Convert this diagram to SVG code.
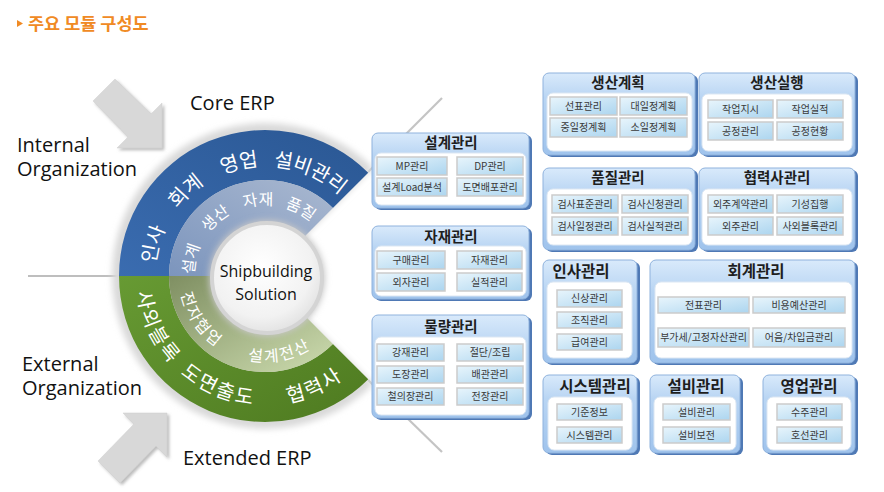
<svg xmlns="http://www.w3.org/2000/svg" xmlns:xlink="http://www.w3.org/1999/xlink" width="884" height="492" viewBox="0 0 884 492">
<defs>
<style>
.bx{fill:url(#boxG);stroke:#8fb2dd;stroke-width:1}
.bs{fill:#4f79b5}
.in{fill:#fff;stroke:#dce7f3;stroke-width:1}
.c{fill:url(#cellG);stroke:#cbcbcb;stroke-width:1.5}
.t{font-family:"Noto Sans CJK KR",sans-serif;font-size:14.5px;font-weight:bold;fill:#1e1e1e;text-anchor:middle}
.t2{font-size:15.5px}
.ct{font-family:"Noto Sans CJK KR",sans-serif;font-size:10px;fill:#3a3a3a;text-anchor:middle}
.lat{font-family:"Open Sans","Noto Sans",sans-serif;font-size:20px;fill:#111}
.rt{font-family:"Noto Sans CJK KR",sans-serif;fill:#fff;text-anchor:middle}
.ro{font-size:20px}
.ri{font-size:16px}
.gs{letter-spacing:2px}
.arr{fill:#d8d8d8;stroke:#cfcfcf;stroke-width:0.5}
.conn{stroke:#c4c4c4;stroke-width:2.2;fill:none}
</style>
<linearGradient id="boxG" x1="0" y1="0" x2="0" y2="1">
<stop offset="0" stop-color="#d9eafb"/>
<stop offset="0.3" stop-color="#b9d5f3"/>
<stop offset="1" stop-color="#9fc3ec"/>
</linearGradient>
<linearGradient id="cellG" x1="0" y1="0" x2="1" y2="1">
<stop offset="0" stop-color="#e8f5fc"/>
<stop offset="1" stop-color="#acd5ef"/>
</linearGradient>
<linearGradient id="dBlue" x1="0" y1="1" x2="1" y2="0">
<stop offset="0" stop-color="#3a6cb0"/>
<stop offset="1" stop-color="#2a5793"/>
</linearGradient>
<linearGradient id="lBlue" x1="0" y1="1" x2="1" y2="0">
<stop offset="0" stop-color="#7c95bd"/>
<stop offset="1" stop-color="#a9b8d0"/>
</linearGradient>
<linearGradient id="dGreen" x1="0" y1="0" x2="1" y2="1">
<stop offset="0" stop-color="#679a33"/>
<stop offset="1" stop-color="#4e7a20"/>
</linearGradient>
<linearGradient id="lGreen" x1="0" y1="0" x2="1" y2="1">
<stop offset="0" stop-color="#7f8f62"/>
<stop offset="1" stop-color="#cddcaf"/>
</linearGradient>
<radialGradient id="hubG" cx="0.45" cy="0.4" r="0.65">
<stop offset="0" stop-color="#ffffff"/>
<stop offset="0.7" stop-color="#f2f2f2"/>
<stop offset="1" stop-color="#dedede"/>
</radialGradient>
<filter id="blur" x="-20%" y="-20%" width="140%" height="140%"><feGaussianBlur stdDeviation="3"/></filter>
<filter id="sh" x="-20%" y="-20%" width="150%" height="150%"><feDropShadow dx="2" dy="2" stdDeviation="1.5" flood-color="#777" flood-opacity="0.5"/></filter>
<path id="pBO" d="M161.63,313.62 A110,110 0 1 1 368.37,313.62"/>
<path id="pBI" d="M198.28,300.28 A71,71 0 1 1 331.72,300.28"/>
<path id="pGO" d="M143.78,231.88 A129,129 0 0 0 376.72,340.5"/>
<path id="pGI" d="M184.19,246.59 A86,86 0 0 0 339.48,319"/>
</defs>
<rect width="884" height="492" fill="#fff"/>

<g id="title">
<polygon points="17,20 23,23.5 17,27" fill="#f08a24"/>
<text x="28" y="30" font-family="'Noto Sans CJK KR',sans-serif" font-size="17.5" font-weight="bold" fill="#f08a24">주요 모듈 구성도</text>
</g>

<g id="arrow-internal" filter="url(#sh)">
<path class="arr" d="M115,79 L151,114 L162,103 L162,148 L117,148 L128,137 L93,101 Z"/>
</g>
<g id="arrow-external" filter="url(#sh)">
<path class="arr" d="M167,413 L167,457 L156,446 L120,483 L98,461 L134,424 L123,413 Z"/>
</g>

<g id="labels">
<text class="lat" x="190" y="110">Core ERP</text>
<text class="lat" x="17" y="152">Internal</text>
<text class="lat" x="17" y="176">Organization</text>
<text class="lat" x="22" y="371">External</text>
<text class="lat" x="22" y="395">Organization</text>
<text class="lat" x="183" y="465">Extended ERP</text>
</g>

<g id="connectors">
<line x1="28" y1="276" x2="122" y2="276" stroke="#a8a8a8" stroke-width="1.5"/>
<line class="conn" x1="368" y1="172" x2="442" y2="98"/>
<line class="conn" x1="368" y1="380" x2="442" y2="452"/>
</g>

<g id="ring">
<path d="M373.19,167.81 A153,153 0 1 0 373.19,384.19 L265,276 Z" fill="#d9d9d9" filter="url(#blur)"/>
<path d="M119,276 A146,146 0 0 1 368.24,172.76 L332.88,208.12 A96,96 0 0 0 169,276 Z" fill="url(#dBlue)"/>
<path d="M169,276 A96,96 0 0 1 332.88,208.12 L300.36,240.64 A50,50 0 0 0 215,276 Z" fill="url(#lBlue)"/>
<path d="M119,276 A146,146 0 0 0 368.24,379.24 L332.88,343.88 A96,96 0 0 1 169,276 Z" fill="url(#dGreen)"/>
<path d="M169,276 A96,96 0 0 0 332.88,343.88 L300.36,311.36 A50,50 0 0 1 215,276 Z" fill="url(#lGreen)"/>
<text class="rt ro"><textPath xlink:href="#pBO" href="#pBO" startOffset="69.1">인사</textPath></text>
<text class="rt ro"><textPath xlink:href="#pBO" href="#pBO" startOffset="128.6">회계</textPath></text>
<text class="rt ro"><textPath xlink:href="#pBO" href="#pBO" startOffset="186.2">영업</textPath></text>
<text class="rt ro"><textPath xlink:href="#pBO" href="#pBO" startOffset="256.3">설비관리</textPath></text>
<text class="rt ri"><textPath xlink:href="#pBI" href="#pBI" startOffset="40.9">설계</textPath></text>
<text class="rt ri"><textPath xlink:href="#pBI" href="#pBI" startOffset="85.5">생산</textPath></text>
<text class="rt ri"><textPath xlink:href="#pBI" href="#pBI" startOffset="129.6">자재</textPath></text>
<text class="rt ri"><textPath xlink:href="#pBI" href="#pBI" startOffset="171">품질</textPath></text>
<text class="rt ro gs"><textPath xlink:href="#pGO" href="#pGO" startOffset="102">사외블록</textPath></text>
<text class="rt ro gs"><textPath xlink:href="#pGO" href="#pGO" startOffset="195.9">도면출도</textPath></text>
<text class="rt ro gs"><textPath xlink:href="#pGO" href="#pGO" startOffset="301.7">협력사</textPath></text>
<text class="rt ri gs"><textPath xlink:href="#pGI" href="#pGI" startOffset="81.1">전자협업</textPath></text>
<text class="rt ri gs"><textPath xlink:href="#pGI" href="#pGI" startOffset="181">설계전산</textPath></text>
</g>

<g id="hub">
<circle cx="267" cy="278" r="58" fill="#c8c8c8" filter="url(#blur)"/>
<circle cx="267" cy="278" r="55" fill="url(#hubG)" stroke="#d4d4d4" stroke-width="4"/>
<text x="266" y="277" font-family="'Open Sans','Noto Sans',sans-serif" font-size="16" fill="#111" text-anchor="middle">Shipbuilding</text>
<text x="266" y="300" font-family="'Open Sans','Noto Sans',sans-serif" font-size="16" fill="#111" text-anchor="middle">Solution</text>
</g>

<g id="box-design">
<rect class="bs" x="375" y="135" width="157" height="75" rx="6"/>
<rect class="bx" x="372" y="133" width="157" height="75" rx="6"/>
<text class="t" x="451" y="148">설계관리</text>
<rect class="in" x="375" y="153" width="151" height="52" rx="6"/>
<rect class="c" x="377" y="157" width="70" height="18"/><text class="ct" x="412" y="169.5">MP관리</text>
<rect class="c" x="457" y="157" width="66" height="18"/><text class="ct" x="490" y="169.5">DP관리</text>
<rect class="c" x="377" y="178" width="70" height="18"/><text class="ct" x="412" y="190.5">설계Load분석</text>
<rect class="c" x="457" y="178" width="66" height="18"/><text class="ct" x="490" y="190.5">도면배포관리</text>
</g>

<g id="box-material">
<rect class="bs" x="375" y="228" width="157" height="73" rx="6"/>
<rect class="bx" x="372" y="226" width="157" height="73" rx="6"/>
<text class="t" x="451" y="242">자재관리</text>
<rect class="in" x="375" y="246" width="151" height="50" rx="6"/>
<rect class="c" x="377" y="251" width="68" height="18"/><text class="ct" x="411" y="263.5">구매관리</text>
<rect class="c" x="457" y="251" width="65" height="18"/><text class="ct" x="489.5" y="263.5">자재관리</text>
<rect class="c" x="377" y="273" width="68" height="18"/><text class="ct" x="411" y="285.5">외자관리</text>
<rect class="c" x="457" y="273" width="65" height="18"/><text class="ct" x="489.5" y="285.5">실적관리</text>
</g>

<g id="box-quantity">
<rect class="bs" x="375" y="317" width="157" height="103" rx="6"/>
<rect class="bx" x="372" y="315" width="157" height="103" rx="6"/>
<text class="t" x="451" y="332">물량관리</text>
<rect class="in" x="375" y="337" width="151" height="78" rx="6"/>
<rect class="c" x="377" y="344" width="67" height="17"/><text class="ct" x="410.5" y="356.3">강재관리</text>
<rect class="c" x="457" y="344" width="66" height="17"/><text class="ct" x="490" y="356.3">절단/조립</text>
<rect class="c" x="377" y="366" width="67" height="17"/><text class="ct" x="410.5" y="378.3">도장관리</text>
<rect class="c" x="457" y="366" width="66" height="17"/><text class="ct" x="490" y="378.3">배관관리</text>
<rect class="c" x="377" y="388" width="67" height="17"/><text class="ct" x="410.5" y="400.3">철의장관리</text>
<rect class="c" x="457" y="388" width="66" height="17"/><text class="ct" x="490" y="400.3">전장관리</text>
</g>

<g id="box-plan">
<rect class="bs" x="546" y="75" width="152" height="82" rx="6"/>
<rect class="bx" x="543" y="73" width="152" height="82" rx="6"/>
<text class="t" x="618" y="88">생산계획</text>
<rect class="in" x="547" y="93" width="145" height="58" rx="6"/>
<rect class="c" x="550" y="97" width="67" height="18"/><text class="ct" x="583.5" y="109.5">선표관리</text>
<rect class="c" x="620" y="97" width="67" height="18"/><text class="ct" x="653.5" y="109.5">대일정계획</text>
<rect class="c" x="550" y="118" width="67" height="19"/><text class="ct" x="583.5" y="131">중일정계획</text>
<rect class="c" x="620" y="118" width="67" height="19"/><text class="ct" x="653.5" y="131">소일정계획</text>
</g>

<g id="box-exec">
<rect class="bs" x="702" y="75" width="156" height="82" rx="6"/>
<rect class="bx" x="699" y="73" width="156" height="82" rx="6"/>
<text class="t" x="777" y="88">생산실행</text>
<rect class="in" x="702" y="94" width="150" height="57" rx="6"/>
<rect class="c" x="708" y="100" width="65" height="18"/><text class="ct" x="740.5" y="112.5">작업지시</text>
<rect class="c" x="777" y="100" width="66" height="18"/><text class="ct" x="810" y="112.5">작업실적</text>
<rect class="c" x="708" y="122" width="65" height="18"/><text class="ct" x="740.5" y="134.5">공정관리</text>
<rect class="c" x="777" y="122" width="66" height="18"/><text class="ct" x="810" y="134.5">공정현황</text>
</g>

<g id="box-quality">
<rect class="bs" x="546" y="170" width="152" height="82" rx="6"/>
<rect class="bx" x="543" y="168" width="152" height="82" rx="6"/>
<text class="t" x="618" y="183">품질관리</text>
<rect class="in" x="547" y="189" width="145" height="56" rx="6"/>
<rect class="c" x="552" y="195" width="66" height="18"/><text class="ct" x="585" y="207.5">검사표준관리</text>
<rect class="c" x="622" y="195" width="66" height="18"/><text class="ct" x="655" y="207.5">검사신청관리</text>
<rect class="c" x="552" y="217" width="66" height="18"/><text class="ct" x="585" y="229.5">검사일정관리</text>
<rect class="c" x="622" y="217" width="66" height="18"/><text class="ct" x="655" y="229.5">검사실적관리</text>
</g>

<g id="box-partner">
<rect class="bs" x="702" y="170" width="156" height="82" rx="6"/>
<rect class="bx" x="699" y="168" width="156" height="82" rx="6"/>
<text class="t" x="777" y="183">협력사관리</text>
<rect class="in" x="702" y="189" width="150" height="56" rx="6"/>
<rect class="c" x="708" y="195" width="65" height="18"/><text class="ct" x="740.5" y="207.5">외주계약관리</text>
<rect class="c" x="777" y="195" width="66" height="18"/><text class="ct" x="810" y="207.5">기성집행</text>
<rect class="c" x="708" y="217" width="65" height="18"/><text class="ct" x="740.5" y="229.5">외주관리</text>
<rect class="c" x="777" y="217" width="66" height="18"/><text class="ct" x="810" y="229.5">사외블록관리</text>
</g>

<g id="box-hr">
<rect class="bs" x="546" y="262" width="94" height="103" rx="6"/>
<rect class="bx" x="543" y="260" width="94" height="103" rx="6"/>
<text class="t t2" x="581" y="277">인사관리</text>
<rect class="in" x="547" y="282" width="85" height="76" rx="6"/>
<rect class="c" x="557" y="290" width="65" height="17"/><text class="ct" x="589.5" y="302.3">신상관리</text>
<rect class="c" x="557" y="312" width="65" height="16"/><text class="ct" x="589.5" y="323.8">조직관리</text>
<rect class="c" x="557" y="334" width="65" height="16"/><text class="ct" x="589.5" y="345.8">급여관리</text>
</g>

<g id="box-account">
<rect class="bs" x="653" y="262" width="205" height="103" rx="6"/>
<rect class="bx" x="650" y="260" width="205" height="103" rx="6"/>
<text class="t t2" x="756" y="277">회계관리</text>
<rect class="in" x="655" y="282" width="197" height="76" rx="6"/>
<rect class="c" x="658" y="297" width="91" height="16"/><text class="ct" x="703.5" y="308.8">전표관리</text>
<rect class="c" x="753" y="297" width="92" height="16"/><text class="ct" x="799" y="308.8">비용예산관리</text>
<rect class="c" x="658" y="328" width="91" height="19"/><text class="ct" x="703.5" y="341.3" font-size="9.5">부가세/고정자산관리</text>
<rect class="c" x="753" y="328" width="92" height="19"/><text class="ct" x="799" y="341.3">어음/차입금관리</text>
</g>

<g id="box-system">
<rect class="bs" x="546" y="377" width="94" height="78" rx="6"/>
<rect class="bx" x="543" y="375" width="94" height="78" rx="6"/>
<text class="t t2" x="595" y="392">시스템관리</text>
<rect class="in" x="548" y="397" width="84" height="53" rx="6"/>
<rect class="c" x="557" y="404" width="65" height="16"/><text class="ct" x="589.5" y="415.8">기준정보</text>
<rect class="c" x="557" y="427" width="65" height="16"/><text class="ct" x="589.5" y="438.8">시스템관리</text>
</g>

<g id="box-facility">
<rect class="bs" x="653" y="377" width="90" height="78" rx="6"/>
<rect class="bx" x="650" y="375" width="90" height="78" rx="6"/>
<text class="t t2" x="696" y="392">설비관리</text>
<rect class="in" x="654" y="397" width="82" height="53" rx="6"/>
<rect class="c" x="663" y="404" width="67" height="16"/><text class="ct" x="696.5" y="415.8">설비관리</text>
<rect class="c" x="663" y="427" width="67" height="16"/><text class="ct" x="696.5" y="438.8">설비보전</text>
</g>

<g id="box-sales">
<rect class="bs" x="766" y="377" width="92" height="78" rx="6"/>
<rect class="bx" x="763" y="375" width="92" height="78" rx="6"/>
<text class="t t2" x="809" y="392">영업관리</text>
<rect class="in" x="767" y="397" width="84" height="53" rx="6"/>
<rect class="c" x="777" y="404" width="65" height="16"/><text class="ct" x="809.5" y="415.8">수주관리</text>
<rect class="c" x="777" y="427" width="65" height="16"/><text class="ct" x="809.5" y="438.8">호선관리</text>
</g>
</svg>
